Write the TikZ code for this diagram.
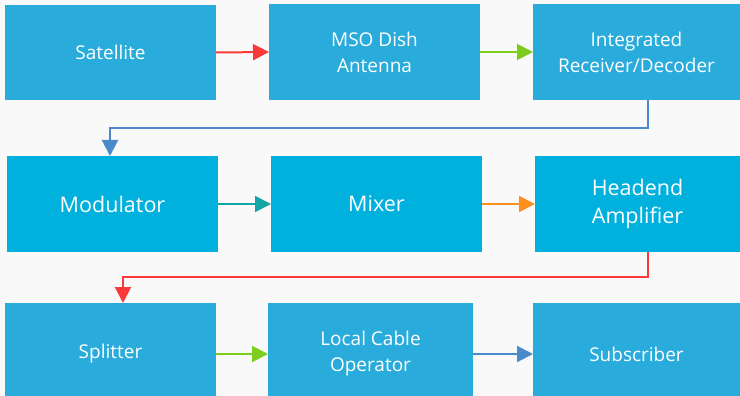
\documentclass[tikz,border=0pt]{standalone}
\usepackage{fontspec}
\setmainfont{Open Sans}
\usetikzlibrary{arrows.meta}
\definecolor{bg}{HTML}{F9F9F9}
\definecolor{boxA}{HTML}{29ACDB}
\definecolor{boxB}{HTML}{00B1DE}
\definecolor{cRed}{HTML}{FA3A3A}
\definecolor{cGreen}{HTML}{7CCD1E}
\definecolor{cBlue}{HTML}{4A8ACA}
\definecolor{cTeal}{HTML}{14A6A6}
\definecolor{cOrange}{HTML}{FF8F1F}
\tikzset{
  blk/.style={rectangle, fill=boxA, text=white, inner sep=0pt, outer sep=0pt,
    anchor=north west, align=center, font=\fontsize{19}{26}\selectfont},
  blkbig/.style={blk, fill=boxB, font=\fontsize{21.5}{28}\selectfont},
  link/.style={line width=2pt, -{Triangle[length=16pt,width=16pt]}},
}
\begin{document}
\begin{tikzpicture}[x=1pt,y=-1pt]
  \fill[bg] (0,0) rectangle (740,396);
  \useasboundingbox (0,0) rectangle (740,396);
  \clip (0,0) rectangle (740,396);

  % first row
  \node[blk, minimum width=211pt, minimum height=95pt] (sat) at (5,5) {Satellite};
  \node[blk, minimum width=211pt, minimum height=96pt] (dish) at (269,4) {MSO Dish\\Antenna};
  \node[blk, minimum width=207pt, minimum height=96pt] (ird) at (533,4) {Integrated\\Receiver/Decoder};

  % second row
  \node[blkbig, minimum width=211pt, minimum height=96pt] (mod) at (7,156) {Modulator};
  \node[blkbig, minimum width=211pt, minimum height=96pt] (mix) at (271,156) {Mixer};
  \node[blkbig, minimum width=205pt, minimum height=96pt] (amp) at (535,156) {Headend\\Amplifier};

  % third row
  \node[blk, minimum width=211pt, minimum height=102pt] (split) at (5,303) {Splitter};
  \node[blk, minimum width=205pt, minimum height=102pt] (lco) at (268,303) {Local Cable\\Operator};
  \node[blk, minimum width=207pt, minimum height=102pt] (sub) at (533,303) {Subscriber};

  % bend points of the elbow connectors
  \coordinate (b1) at (648,128);
  \coordinate (b2) at (110,128);
  \coordinate (b3) at (648,277);
  \coordinate (b4) at (123,277);

  % connectors
  \draw[link, cRed] (sat.east) -- (dish.west);
  \draw[link, cGreen] (dish.east) -- (ird.west);
  \draw[link, cBlue] (ird.south -| b1) -- (b1) -- (b2) -- (mod.north -| b2);
  \draw[link, cTeal] (mod.east) -- (mix.west);
  \draw[link, cOrange] (mix.east) -- (amp.west);
  \draw[link, cRed] (amp.south -| b3) -- (b3) -- (b4) -- (split.north -| b4);
  \draw[link, cGreen] (split.east) -- (lco.west);
  \draw[link, cBlue] (lco.east) -- (sub.west);
\end{tikzpicture}
\end{document}
